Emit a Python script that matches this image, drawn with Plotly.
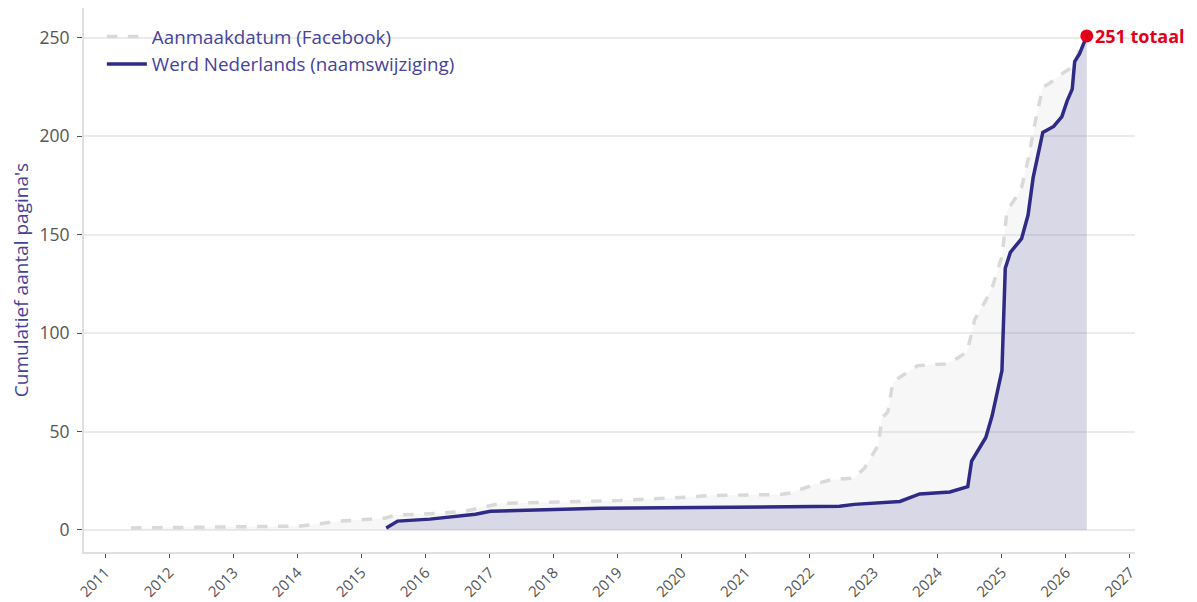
import plotly.graph_objects as go

# Data: cumulative number of pages
created_dates = ["2011-05-27", "2014-01-19", "2014-09-02", "2015-05-15", "2015-07-13", "2016-03-25",
                 "2016-08-14", "2017-01-01", "2017-03-04", "2018-02-07", "2019-01-15", "2019-12-25",
                 "2020-06-14", "2021-07-17", "2021-09-12", "2022-02-28", "2022-04-28", "2022-09-12",
                 "2022-11-10", "2023-01-26", "2023-02-17", "2023-03-22", "2023-04-20", "2023-05-19",
                 "2023-09-09", "2024-02-10", "2024-04-08", "2024-06-17", "2024-07-30", "2024-09-27",
                 "2024-11-06", "2025-01-01", "2025-01-30", "2025-03-15", "2025-04-23", "2025-05-30",
                 "2025-07-09", "2025-08-22", "2025-10-01", "2025-12-13", "2026-02-20", "2026-03-20",
                 "2026-04-30"]
created_counts = [1, 2, 4.5, 6, 7.5, 8.5, 9.5, 12.5, 13.5, 14.2, 15, 16.5, 17.5, 18, 18.8, 24, 25.4,
                  26.4, 31.5, 43, 57, 60, 75, 77, 83.5, 84.3, 86.5, 90.5, 107, 116, 123, 139, 162,
                  168, 174, 188, 207, 225, 227, 232, 236, 244, 251]

renamed_dates = ["2015-05-22", "2015-07-26", "2016-01-26", "2016-10-12", "2017-01-05", "2018-09-24",
                 "2022-06-20", "2022-09-12", "2023-05-30", "2023-09-20", "2024-03-10", "2024-06-20",
                 "2024-07-12", "2024-08-28", "2024-10-01", "2024-11-06", "2025-01-01", "2025-01-20",
                 "2025-02-18", "2025-04-23", "2025-05-30", "2025-06-28", "2025-08-22", "2025-10-23",
                 "2025-12-09", "2026-01-08", "2026-02-06", "2026-02-20", "2026-03-20", "2026-04-30"]
renamed_counts = [1, 4.5, 5.5, 8, 9.5, 11, 12, 13, 14.5, 18.3, 19.3, 22, 35, 42, 47, 58, 81, 133, 141,
                  148, 160, 179, 202, 205, 210, 218, 224, 238, 242, 251]

total_label = "251 totaal"
y_ticks = [0, 50, 100, 150, 200, 250]

INDIGO = "#2e2a85"
TEXT_INDIGO = "#46429a"
RED = "#e2001a"

fig = go.Figure()

# fills
fig.add_trace(go.Scatter(x=created_dates, y=created_counts, mode="none", fill="tozeroy",
                         fillcolor="rgba(200,200,200,0.15)", showlegend=False, hoverinfo="skip"))
fig.add_trace(go.Scatter(x=renamed_dates, y=renamed_counts, mode="none", fill="tozeroy",
                         fillcolor="rgba(46,42,133,0.15)", showlegend=False, hoverinfo="skip"))
# lines
fig.add_trace(go.Scatter(x=created_dates, y=created_counts, mode="lines",
                         name="Aanmaakdatum (Facebook)",
                         line=dict(color="#d9d9d9", width=3.5, dash="dash")))
fig.add_trace(go.Scatter(x=renamed_dates, y=renamed_counts, mode="lines",
                         name="Werd Nederlands (naamswijziging)",
                         line=dict(color=INDIGO, width=3.5)))
# end marker
fig.add_trace(go.Scatter(x=[renamed_dates[-1]], y=[renamed_counts[-1]], mode="markers",
                         marker=dict(color=RED, size=13), showlegend=False))

fig.add_annotation(x=renamed_dates[-1], y=renamed_counts[-1], text="<b>" + total_label + "</b>",
                   showarrow=False, xanchor="left", yanchor="middle", xshift=6,
                   font=dict(color=RED, size=18, family="Open Sans"))

fig.update_layout(
    width=1189, height=594,
    paper_bgcolor="white", plot_bgcolor="white",
    margin=dict(l=76, r=62, t=0, b=50),
    font=dict(family="Open Sans", size=14, color="#555555"),
    legend=dict(x=0.017, y=0.982, xanchor="left", yanchor="top",
                bgcolor="rgba(255,255,255,0)", font=dict(size=18.8, color=TEXT_INDIGO),
                itemwidth=40),
    showlegend=True,
)
fig.update_xaxes(type="date", range=["2010-09-01", "2027-01-30"], dtick="M12", tickformat="%Y",
                 tick0="2011-01-01", tickangle=-45, showgrid=False, showline=True,
                 linecolor="#e0e0e0", linewidth=2, ticks="outside", tickcolor="#555555",
                 ticklen=4, tickwidth=1, tickfont=dict(size=15, color="#555555"), zeroline=False,
                 automargin=False)
fig.update_yaxes(range=[-11.2, 265.2], tickvals=y_ticks, showgrid=True, gridcolor="#ebebeb",
                 gridwidth=1.5, showline=True, linecolor="#e0e0e0", linewidth=2, ticks="outside",
                 tickcolor="#555555", ticklen=5, tickfont=dict(size=17.5, color="#555555"),
                 ticklabelstandoff=4, zeroline=False, automargin=False,
                 title=dict(text="Cumulatief aantal pagina's", font=dict(size=19, color=TEXT_INDIGO),
                            standoff=10))

fig.write_html("out.html")
